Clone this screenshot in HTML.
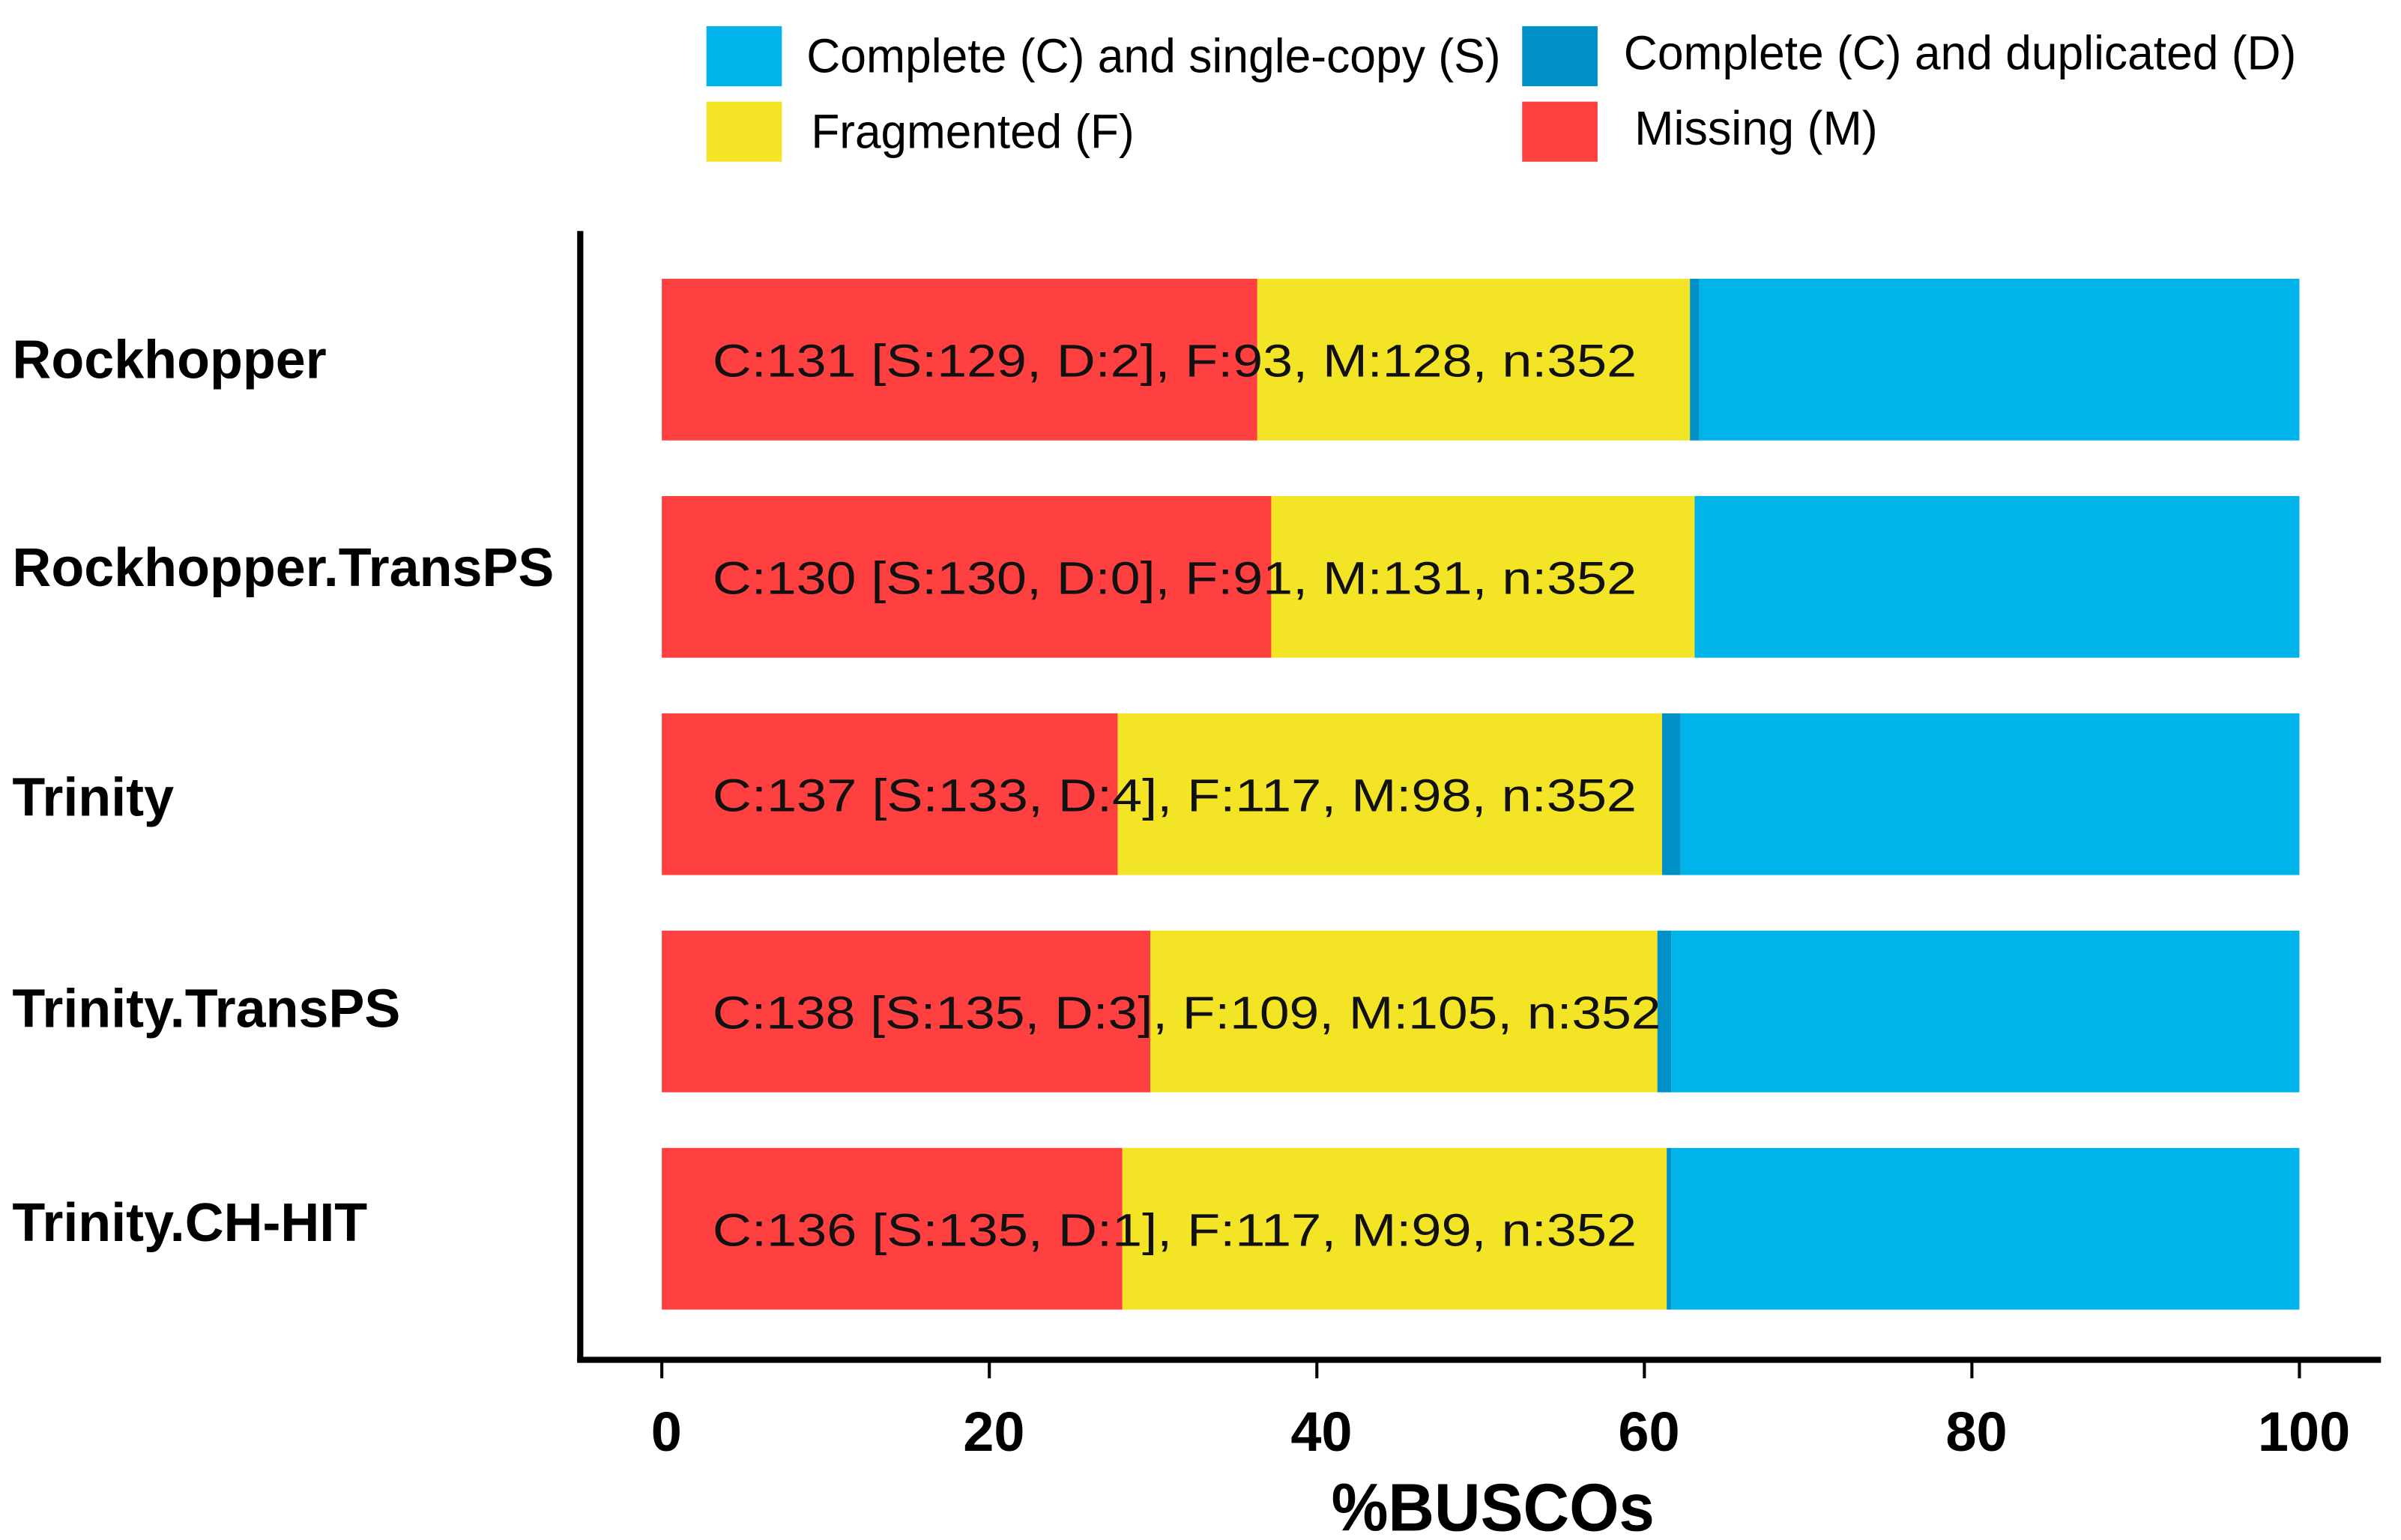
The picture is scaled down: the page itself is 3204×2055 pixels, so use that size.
<!DOCTYPE html>
<html><head><meta charset="utf-8"><style>
html,body{margin:0;padding:0;background:#fff;}
svg{display:block;}
text{font-family:"Liberation Sans",sans-serif;}
</style></head>
<body>
<svg id="chart" width="3204" height="2055" viewBox="0 0 1560 1000" preserveAspectRatio="none" xmlns="http://www.w3.org/2000/svg">
<g>
  <rect x="459" y="17" width="49" height="39" fill="#00b4ea"/>
  <text x="524" y="47" font-size="31" textLength="451" lengthAdjust="spacingAndGlyphs">Complete (C) and single-copy (S)</text>
  <rect x="989" y="17" width="49" height="39" fill="#0090c8"/>
  <text x="1055" y="45" font-size="31" textLength="437" lengthAdjust="spacingAndGlyphs">Complete (C) and duplicated (D)</text>
  <rect x="459" y="66" width="49" height="39" fill="#f4e426"/>
  <text x="527" y="96" font-size="31" textLength="210" lengthAdjust="spacingAndGlyphs">Fragmented (F)</text>
  <rect x="989" y="66" width="49" height="39" fill="#ff4040"/>
  <text x="1062" y="94" font-size="31" textLength="158" lengthAdjust="spacingAndGlyphs">Missing (M)</text>
</g>
<g id="plot"></g>
</svg>
<script>
const categories = ["Rockhopper","Rockhopper.TransPS","Trinity","Trinity.TransPS","Trinity.CH-HIT"];
const missing = [128,131,98,105,99];
const fragmented = [93,91,117,109,117];
const duplicated = [2,0,4,3,1];
const single = [129,130,133,135,135];
const totals = [352,352,352,352,352];
const ticks = [0,20,40,60,80,100];
const barLabels = ["C:131 [S:129, D:2], F:93, M:128, n:352","C:130 [S:130, D:0], F:91, M:131, n:352","C:137 [S:133, D:4], F:117, M:98, n:352","C:138 [S:135, D:3], F:109, M:105, n:352","C:136 [S:135, D:1], F:117, M:99, n:352"];

const NS="http://www.w3.org/2000/svg";
const g=document.getElementById('plot');
const x0=430,x1=1494;
const xs=v=>x0+(x1-x0)*v/100;
const bandTop=181, bandStep=141.1, barH=105;
const ys=i=>bandTop+i*bandStep;
const labelShift=[0,-6,2,-2,-4];
function mk(tag,attrs,parent){const e=document.createElementNS(NS,tag);for(const k in attrs)e.setAttribute(k,attrs[k]);(parent||g).appendChild(e);return e;}

categories.forEach((c,i)=>{
  const n=totals[i];
  const segs=[[missing[i],'#ff4040','missing'],[fragmented[i],'#f4e426','fragmented'],[duplicated[i],'#0090c8','duplicated'],[single[i],'#00b4ea','single']];
  let acc=0;
  segs.forEach(s=>{
    const p=s[0]/n*100;
    const r=mk('rect',{x:xs(acc),y:ys(i),width:Math.max(0,xs(acc+p)-xs(acc)),height:barH,fill:s[1]});
    
    
    acc+=p;
  });
  const lbl=barLabels[i];
  const t=mk('text',{x:463,y:ys(i)+barH/2+11,'font-size':30,fill:'#111',textLength:lbl.length*15.8,lengthAdjust:'spacingAndGlyphs'});
  t.textContent=lbl;
  
  
  const l=mk('text',{x:8,y:ys(i)+barH/2+12+labelShift[i],'font-size':35,'font-weight':'bold',fill:'#000'});
  l.textContent=c;
  
  
});

const ya=mk('line',{x1:377,y1:150,x2:377,y2:884,stroke:'#000','stroke-width':4});


const xa=mk('line',{x1:375,y1:883,x2:1547,y2:883,stroke:'#000','stroke-width':4});


ticks.forEach(v=>{
  const tk=mk('line',{x1:xs(v),y1:883,x2:xs(v),y2:895,stroke:'#000','stroke-width':2});
  
  
  const tl=mk('text',{x:xs(v)+3,y:942,'font-size':36,'font-weight':'bold','text-anchor':'middle',fill:'#000'});
  tl.textContent=v;
  
  
});
const title=mk('text',{x:970,y:994,'font-size':44,'font-weight':'bold','text-anchor':'middle',fill:'#000',textLength:210,lengthAdjust:'spacingAndGlyphs'});
title.textContent='%BUSCOs';


</script>
</body></html>
